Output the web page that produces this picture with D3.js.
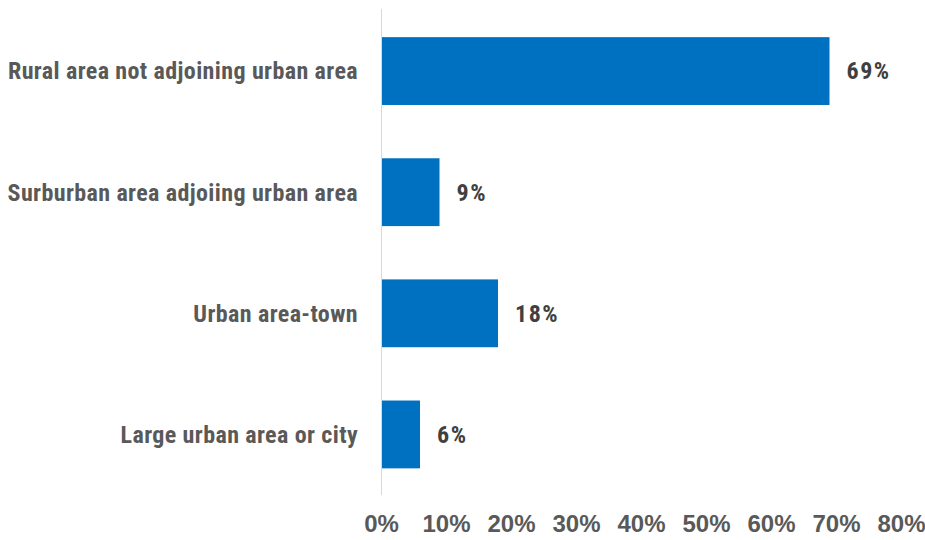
<!DOCTYPE html>
<html>
<head>
<meta charset="utf-8">
<script src="https://cdn.jsdelivr.net/npm/d3@7"></script>
<style>
  html, body { margin: 0; padding: 0; background: #fff; }
  svg { display: block; }
  text { font-family: "Liberation Sans Narrow", "Arial Narrow", "Roboto Condensed", sans-serif; font-weight: bold; }
</style>
</head>
<body>
<svg id="chart" width="925" height="540"></svg>
<script>
const categories = [
  "Rural area not adjoining urban area",
  "Surburban area adjoiing urban area",
  "Urban area-town",
  "Large urban area or city"
];
const values = [69, 9, 18, 6];
const tickValues = [0, 10, 20, 30, 40, 50, 60, 70, 80];

const svg = d3.select("#chart");
const x = d3.scaleLinear().domain([0, 80]).range([381, 901]);
const y = d3.scaleBand().domain(categories).range([10.5, 495]).paddingInner(0.44).paddingOuter(0.22);

// bars
svg.append("g").selectAll("rect")
  .data(categories)
  .join("rect")
  .attr("x", x(0))
  .attr("y", d => y(d))
  .attr("width", (d, i) => x(values[i]) - x(0))
  .attr("height", y.bandwidth())
  .attr("fill", "#0070C0");

// vertical axis line
svg.append("line")
  .attr("x1", x(0) + 0.5).attr("x2", x(0) + 0.5)
  .attr("y1", 9).attr("y2", 495)
  .attr("stroke", "#D9D9D9").attr("stroke-width", 1);

// category labels
svg.append("g").selectAll("text")
  .data(categories)
  .join("text")
  .attr("x", 358)
  .attr("y", d => y(d) + y.bandwidth() / 2)
  .attr("dy", "0.35em")
  .attr("text-anchor", "end")
  .attr("font-size", 24)
  .attr("letter-spacing", "0.4px")
  .attr("fill", "#595959")
  .text(d => d);

// value labels
svg.append("g").selectAll("text")
  .data(categories)
  .join("text")
  .attr("x", (d, i) => x(values[i]) + 17)
  .attr("y", d => y(d) + y.bandwidth() / 2)
  .attr("dy", "0.35em")
  .attr("font-size", 24)
  .attr("letter-spacing", "1.5px")
  .attr("fill", "#404040")
  .text((d, i) => values[i] + "%");

// x axis tick labels
const axis = d3.axisBottom(x).tickValues(tickValues).tickFormat(d => d + "%").tickSize(0).tickPadding(0);
const gx = svg.append("g").attr("transform", "translate(0,515)").call(axis);
gx.select(".domain").remove();
gx.selectAll("text")
  .attr("font-size", 24)
  .attr("fill", "#595959")
  .attr("dy", "0.71em")
  .style("font-family", "\"Liberation Sans Narrow\", \"Arial Narrow\", sans-serif")
  .style("font-weight", "bold");
</script>
</body>
</html>
